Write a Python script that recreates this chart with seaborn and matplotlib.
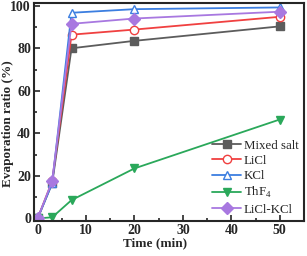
import numpy as np
import pandas as pd
import seaborn as sns
import matplotlib.pyplot as plt
from matplotlib.ticker import MultipleLocator

# data
time = [0, 3, 7, 20, 50]
mixed_salt = [0, 16.5, 80, 83.5, 90.3]
licl = [0, 17.5, 86.4, 88.8, 94.8]
kcl = [0, 16.5, 96.7, 98.4, 99.2]
thf4 = [0, 0.5, 8.6, 23.5, 46.5]
licl_kcl = [0, 17.5, 91.5, 94, 97.2]

names = ['Mixed salt', 'LiCl', 'KCl', 'ThF$_4$', 'LiCl-KCl']
series = [mixed_salt, licl, kcl, thf4, licl_kcl]
colors = ['#5c5c5c', '#f04040', '#3c7ee0', '#2aa85a', '#a878e0']
markers = ['s', 'o', '^', 'v', 'D']
faces = ['#5c5c5c', 'white', 'white', '#2aa85a', '#a878e0']

df = pd.DataFrame({'time': time * len(names),
                   'value': sum(series, []),
                   'name': sum([[n] * len(time) for n in names], [])})

sns.set_style('ticks')
plt.rcParams['font.family'] = ['Liberation Serif', 'DejaVu Serif']
plt.rcParams['mathtext.fontset'] = 'custom'
plt.rcParams['mathtext.rm'] = 'Liberation Serif'

fig, ax = plt.subplots(figsize=(3.07, 2.56), dpi=100)
for n, c, m, f in zip(names, colors, markers, faces):
    sns.lineplot(data=df[df['name'] == n], x='time', y='value', ax=ax,
                 color=c, marker=m, markerfacecolor=f, markeredgecolor=c,
                 markersize=6, linewidth=1.3, markeredgewidth=1, label=n)

ax.set_xlim(-0.8, 55)
ax.set_ylim(-1.2, 101.5)
ax.xaxis.set_major_locator(MultipleLocator(10))
ax.xaxis.set_minor_locator(MultipleLocator(5))
ax.yaxis.set_major_locator(MultipleLocator(20))
ax.yaxis.set_minor_locator(MultipleLocator(10))
ax.tick_params(which='both', direction='in', labelsize=10, width=1.2, pad=2)
ax.tick_params(which='major', length=4)
ax.tick_params(which='minor', length=2)
for lab in ax.get_xticklabels() + ax.get_yticklabels():
    lab.set_fontweight('bold')
for sp in ax.spines.values():
    sp.set_linewidth(1.5)
ax.set_xlabel('Time (min)', fontsize=9.5, fontweight='bold')
ax.set_ylabel('Evaporation ratio (%)', fontsize=9.5, fontweight='bold')
ax.xaxis.set_label_coords(0.45, -0.075)
ax.yaxis.set_label_coords(-0.075, 0.445)

leg = ax.legend(loc='lower right', frameon=False, fontsize=9.3, handlelength=2.3,
                handletextpad=0.2, labelspacing=0.25, borderaxespad=0.0)

plt.subplots_adjust(left=0.11, right=0.99, top=0.99, bottom=0.137)
plt.savefig('out.png', dpi=100)
